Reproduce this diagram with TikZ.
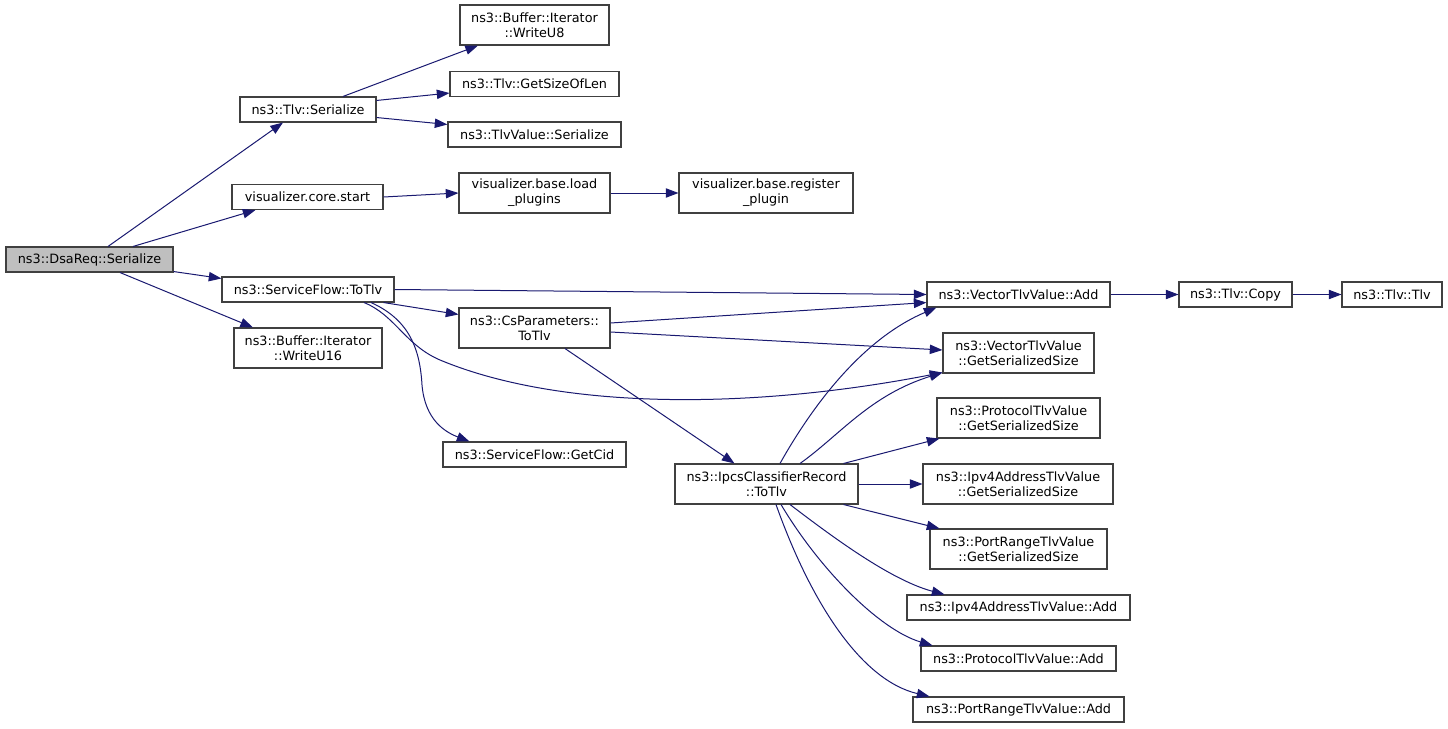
\documentclass[tikz,border=0pt]{standalone}
\usepackage{fontspec}
\setmainfont{DejaVu Sans}
\usetikzlibrary{arrows.meta,calc}
\definecolor{edgeblue}{HTML}{191970}
\definecolor{boxline}{HTML}{404040}
\definecolor{rootfill}{HTML}{BFBFBF}
\begin{document}
\begin{tikzpicture}[x=0.75pt,y=-0.75pt,
  box/.style={draw=boxline,line width=0.8pt,fill=white,rectangle,inner sep=0pt,align=center,
    font=\fontsize{9.6}{11.3}\selectfont},
  bw/.style={minimum width=#1*0.75pt},
  bh/.style={minimum height=#1*0.75pt},
  edge/.style={draw=edgeblue,line width=0.75pt,-{Triangle[length=9.5pt,width=7pt]}}]
\useasboundingbox (0,0) rectangle (1448,728);
% nodes
\node[box,fill=rootfill,bw=167,bh=25] (dsa) at (89.5,259.5) {ns3::DsaReq::Serialize};
\node[box,bw=136,bh=25] (tlvser) at (308,109.5) {ns3::Tlv::Serialize};
\node[box,bw=151,bh=25] (vcore) at (307.5,197) {visualizer.core.start};
\node[box,bw=149,bh=40] (wu8) at (534.5,25) {ns3::Buffer::Iterator\\::WriteU8};
\node[box,bw=169,bh=25] (gsol) at (534.5,84) {ns3::Tlv::GetSizeOfLen};
\node[box,bw=173,bh=25] (tvser) at (534.5,134.5) {ns3::TlvValue::Serialize};
\node[box,bw=151,bh=40] (vload) at (534.5,193) {visualizer.base.load\\\_plugins};
\node[box,bw=174,bh=40] (vreg) at (766,193) {visualizer.base.register\\\_plugin};
\node[box,bw=172,bh=25] (sft) at (308,289.5) {ns3::ServiceFlow::ToTlv};
\node[box,bw=148,bh=40] (wu16) at (308,348) {ns3::Buffer::Iterator\\::WriteU16};
\node[box,bw=151,bh=40] (csp) at (534.5,328) {ns3::CsParameters::\\ToTlv};
\node[box,bw=183,bh=25] (gcid) at (534.5,454.5) {ns3::ServiceFlow::GetCid};
\node[box,bw=183,bh=40] (ipcs) at (766.5,484) {ns3::IpcsClassifierRecord\\::ToTlv};
\node[box,bw=183,bh=25] (vadd) at (1018.5,294.5) {ns3::VectorTlvValue::Add};
\node[box,bw=151,bh=40] (vgss) at (1018.5,353) {ns3::VectorTlvValue\\::GetSerializedSize};
\node[box,bw=163,bh=40] (pgss) at (1018.5,418) {ns3::ProtocolTlvValue\\::GetSerializedSize};
\node[box,bw=190,bh=40] (igss) at (1018,484) {ns3::Ipv4AddressTlvValue\\::GetSerializedSize};
\node[box,bw=177,bh=40] (rgss) at (1018.5,549) {ns3::PortRangeTlvValue\\::GetSerializedSize};
\node[box,bw=223,bh=25] (iadd) at (1018.5,607.5) {ns3::Ipv4AddressTlvValue::Add};
\node[box,bw=195,bh=25] (padd) at (1018.5,658.5) {ns3::ProtocolTlvValue::Add};
\node[box,bw=211,bh=25] (radd) at (1018.5,709.5) {ns3::PortRangeTlvValue::Add};
\node[box,bw=113,bh=25] (copy) at (1235.5,294.5) {ns3::Tlv::Copy};
\node[box,bw=100,bh=25] (tlv) at (1392,294.5) {ns3::Tlv::Tlv};
% edges
\draw[edge] ($(dsa.north)+(18.5,0)$) -- ($(tlvser.south)+(-25,0)$);
\draw[edge] ($(dsa.north)+(43.5,0)$) -- ($(vcore.south)+(-52,0)$);
\draw[edge] ($(dsa.south east)+(0,-1)$) -- ($(sft.north west)+(0,2)$);
\draw[edge] ($(dsa.south)+(30.5,0)$) -- ($(wu16.north)+(-55,0)$);
\draw[edge] ($(tlvser.north)+(35,0)$) -- ($(wu8.south)+(-56.5,0)$);
\draw[edge] ($(tlvser.north east)+(0,4)$) -- ($(gsol.south west)+(0,-4)$);
\draw[edge] ($(tlvser.south east)+(0,-5)$) -- ($(tvser.north west)+(0,3)$);
\draw[edge] (vcore.east) -- (vload.west);
\draw[edge] (vload.east) -- (vreg.west);
\draw[edge] (sft.east) -- (vadd.west);
\draw[edge] ($(sft.south east)+(-11,0)$) -- ($(csp.north west)+(0,7)$);
\draw[edge] ($(sft.south)+(56,0)$) .. controls (395,315) and (405,345) .. (440,360)
  .. controls (560,410) and (750,410) .. ($(vgss.south west)+(0,-1)$);
\draw[edge] ($(sft.south)+(63,0)$) .. controls (410,320) and (420,350) .. (422,385)
  .. controls (425,420) and (445,432) .. ($(gcid.north west)+(27,0)$);
\draw[edge] ($(csp.east)+(0,-5)$) -- ($(vadd.south west)+(0,-5)$);
\draw[edge] ($(csp.east)+(0,4)$) -- ($(vgss.west)+(0,-3)$);
\draw[edge] ($(csp.south)+(30.5,0)$) -- ($(ipcs.north)+(-32,0)$);
\draw[edge] ($(ipcs.north)+(13.5,0)$) .. controls (810,410) and (860,340) .. ($(vadd.south west)+(10,0)$);
\draw[edge] ($(ipcs.north)+(33.5,0)$) .. controls (840,435) and (870,395) .. ($(vgss.south west)+(0,-1)$);
\draw[edge] ($(ipcs.north east)+(-15,0)$) -- ($(pgss.south west)+(3,0)$);
\draw[edge] (ipcs.east) -- (igss.west);
\draw[edge] ($(ipcs.south east)+(-15,0)$) -- ($(rgss.north west)+(10,0)$);
\draw[edge] ($(ipcs.south)+(23.5,0)$) .. controls (830,535) and (890,580) .. ($(iadd.north west)+(38,0)$);
\draw[edge] ($(ipcs.south)+(14.5,0)$) .. controls (820,570) and (880,630) .. ($(padd.north west)+(12,0)$);
\draw[edge] ($(ipcs.south)+(9.5,0)$) .. controls (810,600) and (860,680) .. ($(radd.north west)+(17,0)$);
\draw[edge] (vadd.east) -- (copy.west);
\draw[edge] (copy.east) -- (tlv.west);
\end{tikzpicture}
\end{document}
